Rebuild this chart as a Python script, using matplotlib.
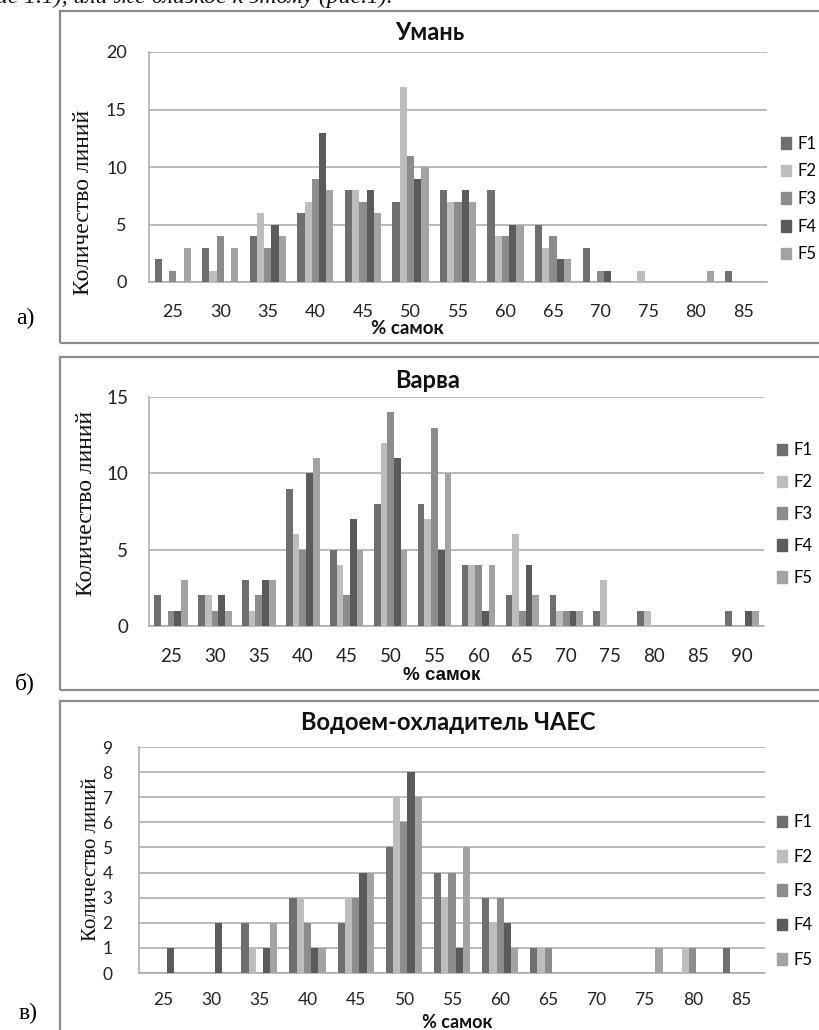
import matplotlib
matplotlib.use("Agg")
import matplotlib.pyplot as plt
from matplotlib.patches import Rectangle
import numpy as np

# ---- data ----
SERIES = ["F1", "F2", "F3", "F4", "F5"]
COLORS = ["#6f6f6f", "#bdbdbd", "#8c8c8c", "#5b5b5b", "#a3a3a3"]

UMAN_CATEGORIES = ["25", "30", "35", "40", "45", "50", "55", "60", "65", "70", "75", "80", "85"]
UMAN_F1 = [2, 3, 4, 6, 8, 7, 8, 8, 5, 3, 0, 0, 1]
UMAN_F2 = [0, 1, 6, 7, 8, 17, 7, 4, 3, 0, 1, 0, 0]
UMAN_F3 = [1, 4, 3, 9, 7, 11, 7, 4, 4, 1, 0, 0, 0]
UMAN_F4 = [0, 0, 5, 13, 8, 9, 8, 5, 2, 1, 0, 0, 0]
UMAN_F5 = [3, 3, 4, 8, 6, 10, 7, 5, 2, 0, 0, 1, 0]

VARVA_CATEGORIES = ["25", "30", "35", "40", "45", "50", "55", "60", "65", "70", "75", "80", "85", "90"]
VARVA_F1 = [2, 2, 3, 9, 5, 8, 8, 4, 2, 2, 1, 1, 0, 1]
VARVA_F2 = [0, 2, 1, 6, 4, 12, 7, 4, 6, 1, 3, 1, 0, 0]
VARVA_F3 = [1, 1, 2, 5, 2, 14, 13, 4, 1, 1, 0, 0, 0, 0]
VARVA_F4 = [1, 2, 3, 10, 7, 11, 5, 1, 4, 1, 0, 0, 0, 1]
VARVA_F5 = [3, 1, 3, 11, 5, 5, 10, 4, 2, 1, 0, 0, 0, 1]

CHAES_CATEGORIES = ["25", "30", "35", "40", "45", "50", "55", "60", "65", "70", "75", "80", "85"]
CHAES_F1 = [0, 0, 2, 3, 2, 5, 4, 3, 1, 0, 0, 0, 1]
CHAES_F2 = [0, 0, 1, 3, 3, 7, 3, 2, 1, 0, 0, 1, 0]
CHAES_F3 = [0, 0, 0, 2, 3, 6, 4, 3, 1, 0, 0, 1, 0]
CHAES_F4 = [1, 2, 1, 1, 4, 8, 1, 2, 0, 0, 0, 0, 0]
CHAES_F5 = [0, 0, 2, 1, 4, 7, 5, 1, 0, 0, 1, 0, 0]

W, H = 820, 1030
GRID = "#a8a8a8"
SANS = ["Lato", "DejaVu Sans"]
SERIF = ["Liberation Serif", "DejaVu Serif"]

fig = plt.figure(figsize=(W / 100, H / 100), dpi=100)


def px_rect(left, top, right, bottom):
    """Pixel box -> figure fraction rect."""
    return [left / W, 1 - bottom / H, (right - left) / W, (bottom - top) / H]


def fx(x):
    return x / W


def fy(y):
    return 1 - y / H


def frame(left, top, right, bottom):
    fig.add_artist(Rectangle((fx(left), fy(bottom)), fx(right) - fx(left), fy(top) - fy(bottom),
                             transform=fig.transFigure, fill=False, edgecolor="#8a8a8a",
                             linewidth=1.6))


def draw_panel(box, categories, values, ymax, ystep, bar_w, pads, tick_size,
               title, title_xy, xlabel, xlabel_xy, xlabel_size, ylabel_xy, ylabel_size,
               legend_xy, legend_gap, xlabel_font=None):
    ax = fig.add_axes(px_rect(*box))
    x = np.arange(len(categories))
    for i, (name, vals) in enumerate(zip(SERIES, values)):
        ax.bar(x + (i - 2) * bar_w, vals, width=bar_w, color=COLORS[i], label=name,
               linewidth=0, zorder=3)
    ax.set_xlim(-0.5, len(categories) - 0.5)
    ax.set_ylim(0, ymax)
    ax.set_yticks(np.arange(0, ymax + 0.1, ystep))
    ax.set_xticks(x)
    ax.set_xticklabels(categories)
    ax.yaxis.grid(True, color=GRID, linewidth=1.1, zorder=0)
    ax.set_axisbelow(True)
    for side in ["top", "right"]:
        ax.spines[side].set_visible(False)
    for side in ["left", "bottom"]:
        ax.spines[side].set_color(GRID)
        ax.spines[side].set_linewidth(1.1)
    ax.tick_params(axis="x", length=0, pad=pads[0], labelsize=tick_size, colors="#222222")
    ax.tick_params(axis="y", length=0, pad=pads[1], labelsize=tick_size, colors="#222222")
    for lab in ax.get_xticklabels() + ax.get_yticklabels():
        lab.set_family(SANS)

    fig.text(fx(title_xy[0]), fy(title_xy[1]), title, ha="center", va="center",
             fontsize=17, fontweight="bold", family=SANS, color="#111111")
    fig.text(fx(xlabel_xy[0]), fy(xlabel_xy[1]), xlabel, ha="center", va="center",
             fontsize=xlabel_size, fontweight="bold", family=xlabel_font or SANS,
             color="#111111")
    fig.text(fx(ylabel_xy[0]), fy(ylabel_xy[1]), "Количество линий", ha="center",
             va="center", rotation=90, fontsize=ylabel_size, family=SERIF, color="#111111")

    handles = [Rectangle((0, 0), 1, 1, color=c) for c in COLORS]
    ax.legend(handles, SERIES, loc="center left",
              bbox_to_anchor=(fx(legend_xy[0]), fy(legend_xy[1])),
              bbox_transform=fig.transFigure, frameon=False, handlelength=0.6,
              handleheight=0.7, handletextpad=0.4, labelspacing=legend_gap,
              borderpad=0, borderaxespad=0, prop={"family": SANS, "size": 12})
    return ax


# top line of page text, cut by the image edge
fig.text(fx(-4), fy(-3), "ис 1.1), или же близкое к этому (рис.1).", ha="left", va="center",
         fontsize=17, style="italic", family=SERIF, color="#111111")

# panel frames
frame(60, 11, 830, 343)
frame(60, 357, 830, 690)
frame(60, 701, 830, 1040)

# panel letters
fig.text(fx(25), fy(318), "а)", ha="center", va="center", fontsize=17, family=SERIF)
fig.text(fx(25), fy(683), "б)", ha="center", va="center", fontsize=17, family=SERIF)
fig.text(fx(28), fy(1013), "в)", ha="center", va="center", fontsize=17, family=SERIF)

draw_panel((149, 52, 767, 282), UMAN_CATEGORIES,
           [UMAN_F1, UMAN_F2, UMAN_F3, UMAN_F4, UMAN_F5],
           20, 5, 0.152, (16, 16), 13, "Умань", (430, 33), "% самок", (407, 329), 13.5,
           (84, 202), 17, (781, 199), 0.7)

draw_panel((149, 397, 764, 626), VARVA_CATEGORIES,
           [VARVA_F1, VARVA_F2, VARVA_F3, VARVA_F4, VARVA_F5],
           15, 5, 0.153, (16, 15), 13.5, "Варва", (428, 380), "% самок", (442, 676), 13.5,
           (87, 503), 17, (777, 514), 0.95, xlabel_font=["Liberation Sans", "DejaVu Sans"])

draw_panel((139, 747, 765, 973), CHAES_CATEGORIES,
           [CHAES_F1, CHAES_F2, CHAES_F3, CHAES_F4, CHAES_F5],
           9, 1, 0.15, (14, 19), 12.5, "Водоем-охладитель ЧАЕС", (448, 723), "% самок",
           (457, 1023), 13, (92, 859), 15, (777, 891), 1.1)

fig.savefig("out.png", dpi=100)
